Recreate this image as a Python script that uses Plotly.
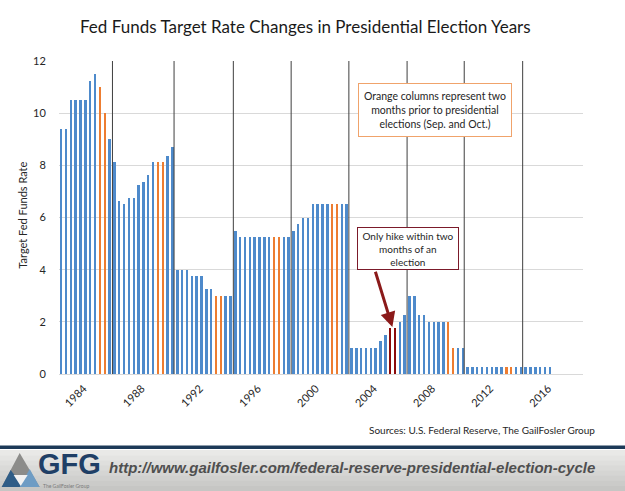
import plotly.graph_objects as go

# ---------------- data ----------------
rates = [
    9.375, 9.375, 10.5, 10.5, 10.5, 10.5, 11.25, 11.5, 11.0, 10.0, 9.0, 8.125,
    6.625, 6.5, 6.75, 6.75, 7.25, 7.375, 7.625, 8.125, 8.125, 8.125, 8.375, 8.6875,
    4.0, 4.0, 4.0, 3.75, 3.75, 3.75, 3.25, 3.25, 3.0, 3.0, 3.0, 3.0,
    5.5, 5.25, 5.25, 5.25, 5.25, 5.25, 5.25, 5.25, 5.25, 5.25, 5.25, 5.25,
    5.5, 5.75, 6.0, 6.0, 6.5, 6.5, 6.5, 6.5, 6.5, 6.5, 6.5, 6.5,
    1.0, 1.0, 1.0, 1.0, 1.0, 1.0, 1.25, 1.5, 1.75, 1.75, 2.0, 2.25,
    3.0, 3.0, 2.25, 2.25, 2.0, 2.0, 2.0, 2.0, 2.0, 1.0, 1.0, 1.0,
    0.25, 0.25, 0.25, 0.25, 0.25, 0.25, 0.25, 0.25, 0.25, 0.25, 0.25, 0.25,
    0.25, 0.25, 0.25, 0.25, 0.25, 0.25,
]
# bar kind: 'n' normal, 'e' two months prior to election, 'h' hike within two months
kinds = (
    ["n"] * 8 + ["e", "e"] + ["n"] * 10 + ["e", "e"] + ["n"] * 10 + ["e", "e"] + ["n"] * 10
    + ["e", "e"] + ["n"] * 10 + ["e", "e"] + ["n"] * 10 + ["h", "h"] + ["n"] * 10
    + ["e", "e"] + ["n"] * 10 + ["e", "e"] + ["n"] * 8
)
bar_pos = list(range(1, len(rates) + 1))
tick_labels = ["1984", "1988", "1992", "1996", "2000", "2004", "2008", "2012", "2016"]
tick_bar = [5.6, 17.6, 29.6, 41.6, 53.6, 65.6, 77.6, 89.6, 101.6]
election_marks = [11.55, 24.28, 36.53, 48.48, 60.41, 72.44, 84.25, 96.33]

kind_color = {"n": "#4E8ACB", "e": "#ED7D31", "h": "#8B0A0A"}
colors = [kind_color[k] for k in kinds]

FONT = "Lato, 'Open Sans', sans-serif"
W_, H_ = 625, 491
L, R, T, B = 59.3, 583.0, 61.0, 374.0
PW, PH = R - L, B - T


def px(x):
    return (x - L) / PW


def py(y):
    return (B - y) / PH


fig = go.Figure()
fig.add_trace(go.Bar(x=bar_pos, y=rates, marker=dict(color=colors, line=dict(width=0)),
                     width=0.4, hoverinfo="skip"))

shapes = []
for m in election_marks:
    shapes.append(dict(type="line", xref="x", yref="y", x0=m, x1=m, y0=0, y1=12,
                       line=dict(color="#3F3F3F", width=1)))

# footer
shapes.append(dict(type="rect", xref="paper", yref="paper", x0=px(0), x1=px(W_),
                   y0=py(449), y1=py(445.5), fillcolor="#1D3A58", line=dict(width=0), layer="above"))
grays = ["#e9e9e7", "#e4e4e2", "#dfdfdd", "#dadad8", "#d5d5d3", "#d0d0ce", "#cbcbc9", "#c6c6c4"]
y_start, y_end = 450.0, 491.0
step = (y_end - y_start) / len(grays)
for i, g in enumerate(grays):
    shapes.append(dict(type="rect", xref="paper", yref="paper", x0=px(0), x1=px(W_),
                       y0=py(y_start + (i + 1) * step + 0.5), y1=py(y_start + i * step),
                       fillcolor=g, line=dict(width=0), layer="above"))


def path(points):
    return "M " + " L ".join(f"{px(a):.5f},{py(b):.5f}" for a, b in points) + " Z"


shapes.append(dict(type="path", xref="paper", yref="paper", layer="above",
                   path=path([(20, 453), (2, 487), (40, 487)]), fillcolor="#8C8C8A", line=dict(width=0)))
shapes.append(dict(type="path", xref="paper", yref="paper", layer="above",
                   path=path([(2, 487), (11, 470), (24, 487)]), fillcolor="#2F5D87", line=dict(width=0)))
shapes.append(dict(type="path", xref="paper", yref="paper", layer="above",
                   path=path([(30, 469), (40, 487), (20, 487)]), fillcolor="#6E9CC4", line=dict(width=0)))
shapes.append(dict(type="path", xref="paper", yref="paper", layer="above",
                   path=path([(14, 475), (28, 475), (21, 486)]), fillcolor="#F2F2F2", line=dict(width=0)))

annotations = [
    dict(text="Fed Funds Target Rate Changes in Presidential Election Years", x=px(305.5), y=py(27),
         xref="paper", yref="paper", showarrow=False, xanchor="center", yanchor="middle",
         font=dict(family=FONT, size=17, color="#1a1a1a")),
    dict(text="Target Fed Funds Rate", x=px(23), y=py(215), xref="paper", yref="paper",
         showarrow=False, textangle=-90, xanchor="center", yanchor="middle",
         font=dict(family=FONT, size=11, color="#262626")),
    dict(text="Orange columns represent two<br>months prior to presidential<br>elections (Sep. and Oct.)",
         x=px(435), y=py(110), xref="paper", yref="paper", showarrow=False, xanchor="center",
         yanchor="middle", width=152, height=52, borderpad=0, bordercolor="#F0A36B", borderwidth=1,
         bgcolor="white", font=dict(family=FONT, size=10.5, color="#262626")),
    dict(text="Only hike within two<br>months of an<br>election",
         x=px(408), y=py(248.5), xref="paper", yref="paper", showarrow=False, xanchor="center",
         yanchor="middle", width=100, height=41, borderpad=0, bordercolor="#7B1A2A", borderwidth=1,
         bgcolor="white", font=dict(family=FONT, size=10, color="#262626")),
    dict(text="", x=69.4, y=1.8, xref="x", yref="y", ax=65.8, ay=3.98, axref="x", ayref="y",
         showarrow=True, arrowhead=2, arrowsize=1, arrowwidth=3, arrowcolor="#8B1A1A"),
    dict(text="Sources: U.S. Federal Reserve, The GailFosler Group", x=px(597), y=py(430),
         xref="paper", yref="paper", showarrow=False, xanchor="right", yanchor="middle",
         font=dict(family=FONT, size=10, color="#262626")),
    dict(text="<b>GFG</b>", x=px(70), y=py(464), xref="paper", yref="paper", showarrow=False,
         xanchor="center", yanchor="middle",
         font=dict(family="'Liberation Sans Narrow', 'Arial Narrow', 'Liberation Sans', sans-serif",
                   size=29, color="#1F3F66")),
    dict(text="The GailFosler Group", x=px(66), y=py(485.5), xref="paper", yref="paper", showarrow=False,
         xanchor="center", yanchor="middle", font=dict(family=FONT, size=5, color="#7a7a7a")),
    dict(text="http://www.gailfosler.com/federal-reserve-presidential-election-cycle",
         x=px(107), y=py(467), xref="paper", yref="paper", showarrow=False, xanchor="left",
         yanchor="middle",
         font=dict(family="'Liberation Sans', Arial, sans-serif", size=15, color="#4F4F4F",
                   weight="bold", style="italic")),
]

fig.update_layout(
    width=W_, height=H_,
    margin=dict(l=L, r=W_ - R, t=T, b=H_ - B, pad=0),
    paper_bgcolor="white", plot_bgcolor="white",
    showlegend=False, bargap=0,
    shapes=shapes, annotations=annotations,
    xaxis=dict(range=[0.5, 108.8], tickmode="array", tickvals=tick_bar, ticktext=tick_labels,
               tickangle=-45, showgrid=False, zeroline=False, showline=False,
               ticks="outside", ticklen=3, tickcolor="rgba(0,0,0,0)",
               tickfont=dict(family=FONT, size=11, color="#262626")),
    yaxis=dict(range=[0, 12], dtick=2, tick0=0, showgrid=True, gridcolor="#D9D9D9", gridwidth=1,
               zeroline=True, zerolinecolor="#D9D9D9", zerolinewidth=1, showline=False,
               ticks="outside", ticklen=10, tickcolor="rgba(0,0,0,0)",
               tickfont=dict(family=FONT, size=11, color="#262626")),
)

fig.write_html("out.html")
